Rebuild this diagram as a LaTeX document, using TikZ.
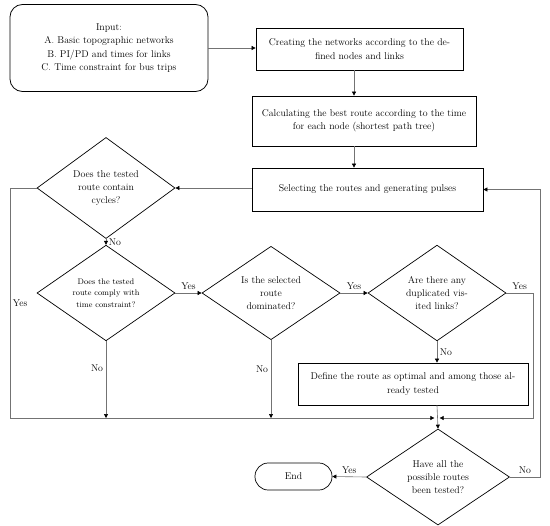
\documentclass[tikz,border=0pt]{standalone}
\usetikzlibrary{shapes.geometric, arrows.meta, positioning, calc}

\begin{document}
\begin{tikzpicture}[
        x=0.04cm, y=-0.04cm,
        every node/.style={font=\fontsize{11.2}{15.2}\selectfont},
        startbox/.style={rectangle, draw=black, line width=0.9pt, rounded corners=0.5cm, align=center, minimum width=7.92cm, minimum height=3.48cm},
        proc/.style={rectangle, draw=black, line width=0.8pt, align=center, inner sep=2pt},
        test/.style={diamond, draw=black, line width=0.8pt, align=center, inner sep=0pt, minimum width=5.52cm, minimum height=3.68cm},
        termbox/.style={rectangle, draw=black, line width=0.8pt, rounded corners=0.53cm, minimum width=3.08cm, minimum height=1.08cm},
        conn/.style={draw=black!55, line width=0.7pt, -{Triangle[length=4.5pt, width=4.5pt, color=black]}},
        lbl/.style={inner sep=3pt}
    ]
        \useasboundingbox (0,0) rectangle (550,526);
        \coordinate (rail) at (10,0);
        \coordinate (loop) at (540,0);
        \coordinate (side) at (533,0);
        \coordinate (spine) at (354,0);
        \coordinate (merge) at (437,418);
        \node[startbox] (input) at (109,48) {Input:\\A. Basic topographic networks\\B. PI/PD and times for links\\C. Time constraint for bus trips};
        \node[proc, minimum width=8.28cm, minimum height=1.68cm] (create) at (359.5,49) {Creating the networks according to the de-\\fined nodes and links};
        \node[proc, minimum width=8.96cm, minimum height=2cm] (calc) at (364,121) {Calculating the best route according to the time\\for each node (shortest path tree)};
        \node[proc, minimum width=9.24cm, minimum height=1.72cm] (select) at (367.5,189.5) {Selecting the routes and generating pulses};
        \node[test] (cycle) at (106,188) {Does the tested\\route contain\\cycles?};
        \node[test, font=\fontsize{9.2}{13.2}\selectfont] (comply) at (106,293) {Does the tested\\route comply with\\time constraint?};
        \node[test] (domin) at (271,293) {Is the selected\\route\\dominated?};
        \node[test] (dupl) at (437,293) {Are there any\\duplicated vis-\\ited links?};
        \node[proc, minimum width=9.2cm, minimum height=1.68cm] (define) at (413,384) {Define the route as optimal and among those al-\\ready tested};
        \node[test, minimum width=5.72cm, minimum height=3.84cm] (alltested) at (438,477) {Have all the\\possible routes\\been tested?};
        \node[termbox] (stop) at (293.5,476.5) {End};
        \draw[conn] (input.east) -- (input.east -| create.west);
        \draw[conn] (spine |- create.south) -- (spine |- calc.north);
        \draw[conn] (spine |- calc.south) -- (spine |- select.north);
        \draw[conn] (select.west |- cycle.east) -- (cycle.east);
        \draw[conn] (cycle.south) -- (comply.north) node[midway, right, lbl] {No};
        \draw[conn] (comply.east) -- (domin.west) node[midway, above, lbl] {Yes};
        \draw[conn] (domin.east) -- (dupl.west) node[midway, above, lbl] {Yes};
        \draw[conn] (dupl.south) -- (dupl.south |- define.north) node[midway, right, lbl] {No};
        \draw[conn] (comply.south) -- (comply.south |- merge) node[pos=0.35, left, lbl] {No};
        \draw[conn] (domin.south) -- (domin.south |- merge) node[pos=0.38, left, lbl] {No};
        \draw[conn, shorten >=3pt] (cycle.west) -| (rail |- merge) node[pos=0.75, right, lbl] {Yes} -- (merge);
        \draw[conn, shorten >=3pt] (dupl.east) -- (dupl.east -| side) node[midway, above, lbl] {Yes} -- (side |- merge) -- (merge);
        \draw[conn] (define.south -| merge) -- (alltested.north);
        \draw[conn] (alltested.west) -- (stop.east) node[midway, above, lbl] {Yes};
        \draw[conn] (alltested.east) -- (alltested.east -| loop) node[midway, above, lbl] {No} -- (loop |- select.east) -- (select.east);
    \end{tikzpicture}
\end{document}
